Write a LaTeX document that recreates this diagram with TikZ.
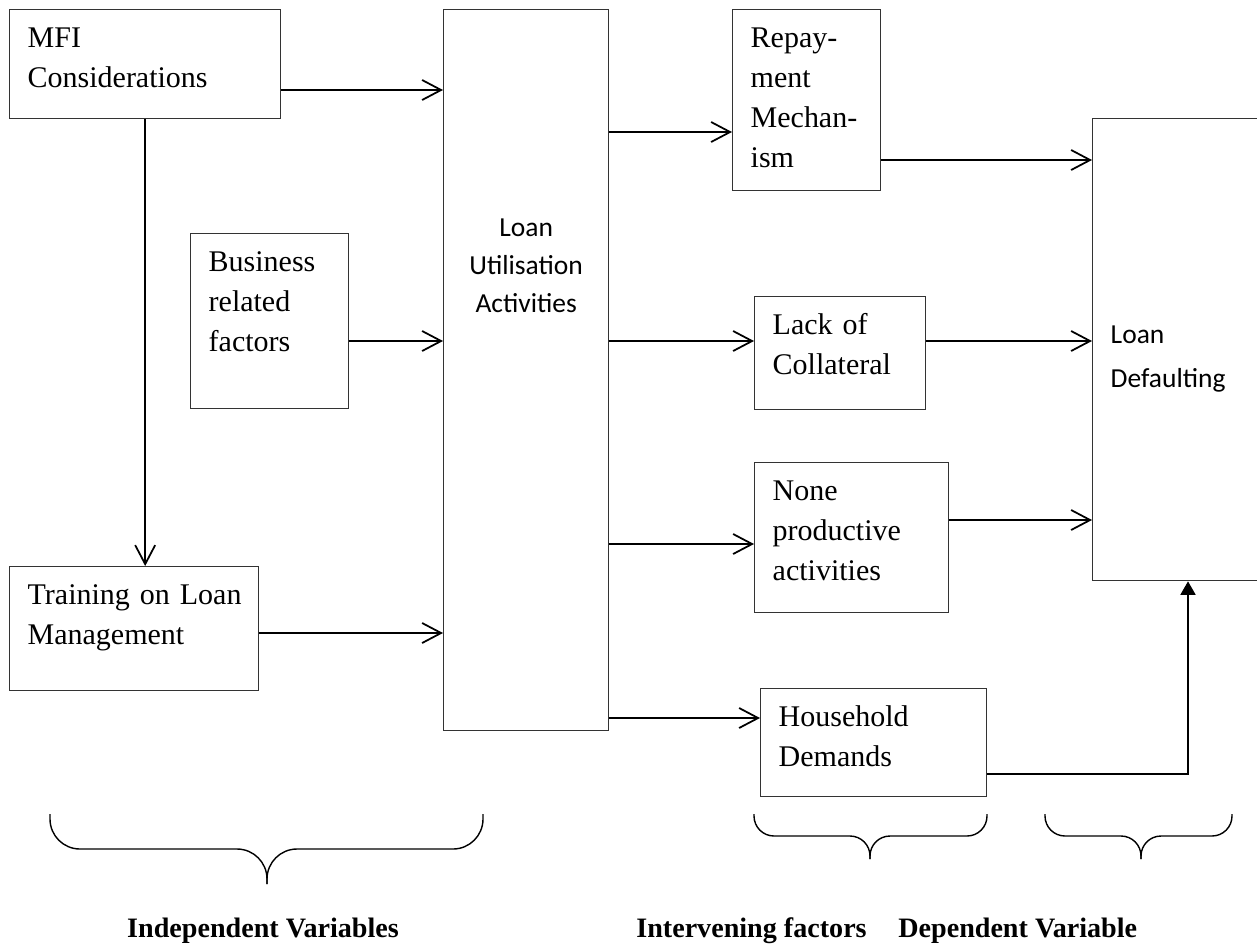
\documentclass[tikz,border=0pt]{standalone}
\usepackage{fontspec}
\setmainfont{Liberation Serif}
\newfontfamily\calibfont{Carlito}
\usetikzlibrary{arrows.meta}

\begin{document}
\begin{tikzpicture}[x=0.02cm, y=-0.02cm]

      \tikzset{box/.style={draw=black!80, line width=0.8pt, anchor=north west, align=left, inner xsep=0.36cm, inner ysep=0.34cm, text height=0.42cm, font=\fontsize{17.07}{22.76}\selectfont},
               bigbox/.style={box, font=\calibfont\fontsize{15.65}{21.6}\selectfont},
               arr/.style={-{Straight Barb[length=0.38cm, width=0.4cm]}, line width=1pt},
               uparr/.style={-{Triangle[length=0.27cm, width=0.3cm]}, line width=1pt},
               curly/.style={line width=0.8pt, rounded corners=#1},
               heading/.style={font=\bfseries\fontsize{16}{20}\selectfont, inner sep=0pt}}

      \clip (0,0) rectangle (1257,951);
%% Boxes
      	\node[box, text width=4.70cm, text depth=1.08cm] (mfi) at (9,9) {MFI\\Considerations};
      	\node[box, text width=2.44cm, text depth=2.40cm] (bus) at (190,233) {Business\\related\\factors};
      	\node[box, text width=4.26cm, text depth=1.38cm] (train) at (9,566) {\mbox{Training on Loan}\\Management};
      	\node[bigbox, align=center, text width=2.58cm, text height=4.20cm, text depth=9.54cm] (lu) at (443,9) {Loan\\Utilisation\\Activities};
      	\node[box, text width=2.24cm, text depth=2.52cm] (rep) at (732,9) {Repay-\\ment\\Mechan-\\ism};
      	\node[box, text width=2.70cm, text depth=1.16cm] (col) at (754,296) {Lack of\\Collateral};
      	\node[box, text width=3.16cm, text depth=1.90cm] (none) at (754,462) {None\\productive\\activities};
      	\node[box, text width=3.80cm, text depth=1.06cm] (hh) at (760,688) {Household\\Demands};
      	\node[bigbox, font=\calibfont\fontsize{15.65}{25}\selectfont, text width=2.94cm, text height=4.16cm, text depth=4.40cm] (ld) at (1092,118) {Loan\\Defaulting};
%Edges
		\draw[arr] (mfi.east |- 0,90) -- (lu.west |- 0,90);
		\draw[arr] (mfi.south) -- (mfi.south |- train.north);
		\draw[arr] (bus.east |- 0,341) -- (lu.west |- 0,341);
		\draw[arr] (train.east |- 0,633) -- (lu.west |- 0,633);
		\draw[arr] (lu.east |- 0,132) -- (rep.west |- 0,132);
		\draw[arr] (lu.east |- 0,341) -- (col.west |- 0,341);
		\draw[arr] (lu.east |- 0,544) -- (none.west |- 0,544);
		\draw[arr] (lu.east |- 0,718) -- (hh.west |- 0,718);
		\draw[arr] (rep.east |- 0,160) -- (ld.west |- 0,160);
		\draw[arr] (col.east |- 0,341) -- (ld.west |- 0,341);
		\draw[arr] (none.east |- 0,520) -- (ld.west |- 0,520);
		\draw[uparr] (hh.east |- 0,774) -| (ld.south -| 1188,0);
%Braces
		\draw[curly=0.6cm] (50,814) -- (50,849) -- (267,849) -- (267,884);
		\draw[curly=0.6cm] (483,814) -- (483,849) -- (267,849) -- (267,884);
		\draw[curly=0.4cm] (754,814) -- (754,836) -- (870,836) -- (870,859);
		\draw[curly=0.4cm] (987,814) -- (987,836) -- (870,836) -- (870,859);
		\draw[curly=0.4cm] (1045,814) -- (1045,836) -- (1141,836) -- (1141,859);
		\draw[curly=0.4cm] (1232,814) -- (1232,836) -- (1141,836) -- (1141,859);
%Headings
		\node[heading, anchor=base] (indep) at (263,937) {Independent Variables};
		\node[heading, anchor=base west] (interv) at (636,937) {Intervening factors};
		\node[heading, anchor=base west] (dep) at (898,937) {Dependent Variable};

	\end{tikzpicture}
\end{document}
